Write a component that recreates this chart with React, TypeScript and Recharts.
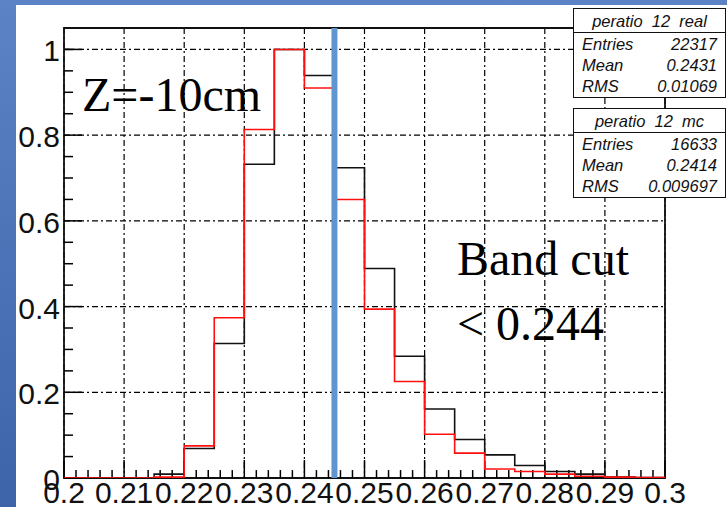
import React from "react";
import {
  ComposedChart,
  Line,
  XAxis,
  YAxis,
  CartesianGrid,
  ReferenceLine,
  ReferenceArea,
} from "recharts";

// Histogram bin low edges (bin width 0.005)
const binEdges = [
  0.2, 0.205, 0.21, 0.215, 0.22, 0.225, 0.23, 0.235, 0.24, 0.245,
  0.25, 0.255, 0.26, 0.265, 0.27, 0.275, 0.28, 0.285, 0.29, 0.295,
];
const upperEdge = 0.3;

// peratio 12 real (black)
const realValues = [
  0, 0, 0, 0.009, 0.069, 0.314, 0.732, 1.0, 0.939, 0.724,
  0.489, 0.284, 0.161, 0.09, 0.054, 0.029, 0.015, 0.009, 0.002, 0.001,
];
// peratio 12 mc (red)
const mcValues = [
  0, 0, 0, 0.002, 0.075, 0.374, 0.813, 1.0, 0.91, 0.65,
  0.394, 0.225, 0.102, 0.058, 0.021, 0.015, 0.009, 0.004, 0.002, 0.001,
];

const xTicks = [0.2, 0.21, 0.22, 0.23, 0.24, 0.25, 0.26, 0.27, 0.28, 0.29, 0.3];
const xTickLabels = ["0.2", "0.21", "0.22", "0.23", "0.24", "0.25", "0.26", "0.27", "0.28", "0.29", "0.3"];
const yTicks = [0, 0.2, 0.4, 0.6, 0.8, 1];
const yTickLabels = ["0", "0.2", "0.4", "0.6", "0.8", "1"];
const xMinorTicks = [
  0.202, 0.204, 0.206, 0.208, 0.212, 0.214, 0.216, 0.218, 0.222, 0.224, 0.226, 0.228,
  0.232, 0.234, 0.236, 0.238, 0.242, 0.244, 0.246, 0.248, 0.252, 0.254, 0.256, 0.258,
  0.262, 0.264, 0.266, 0.268, 0.272, 0.274, 0.276, 0.278, 0.282, 0.284, 0.286, 0.288,
  0.292, 0.294, 0.296, 0.298,
];
const yMinorTicks = [0.05, 0.1, 0.15, 0.25, 0.3, 0.35, 0.45, 0.5, 0.55, 0.65, 0.7, 0.75, 0.85, 0.9, 0.95, 1.0];
const cutValue = 0.245;

const statsReal = { title: "peratio  12  real", entries: "22317", mean: "0.2431", rms: "0.01069" };
const statsMc = { title: "peratio  12  mc", entries: "16633", mean: "0.2414", rms: "0.009697" };

const chartData = [
  ...binEdges.map((x, i) => ({ x, real: realValues[i], mc: mcValues[i] })),
  { x: upperEdge, real: realValues[realValues.length - 1], mc: mcValues[mcValues.length - 1] },
];

const Y_MAX = 1.05;
const AXIS_FONT = "'Liberation Sans', Arial, sans-serif";

const XTick = (props: any) => {
  const { x, y, payload } = props;
  const idx = xTicks.findIndex((t) => Math.abs(t - payload.value) < 1e-9);
  return (
    <text x={x} y={y + 25} textAnchor="middle" fontSize={30} fontFamily={AXIS_FONT} fill="#111">
      {idx >= 0 ? xTickLabels[idx] : ""}
    </text>
  );
};

const YTick = (props: any) => {
  const { x, y, payload } = props;
  const idx = yTicks.findIndex((t) => Math.abs(t - payload.value) < 1e-9);
  return (
    <text x={x - 4} y={y + 12} textAnchor="end" fontSize={30} fontFamily={AXIS_FONT} fill="#111">
      {idx >= 0 ? yTickLabels[idx] : ""}
    </text>
  );
};

const StatBox = ({ top, stats }: { top: number; stats: typeof statsReal }) => {
  const rowStyle: React.CSSProperties = {
    display: "flex",
    justifyContent: "space-between",
    padding: "0 8px 0 8px",
    height: 21,
    lineHeight: "21px",
  };
  return (
    <div
      style={{
        position: "absolute",
        left: 573,
        top,
        width: 151,
        height: 88,
        border: "1.5px solid #111",
        background: "#fff",
        fontFamily: AXIS_FONT,
        fontStyle: "italic",
        fontSize: 16.5,
        color: "#111",
      }}
    >
      <div
        style={{
          height: 23,
          lineHeight: "24px",
          textAlign: "center",
          borderBottom: "1.5px solid #111",
          whiteSpace: "pre",
        }}
      >
        {stats.title}
      </div>
      <div style={{ paddingTop: 1 }}>
        <div style={rowStyle}>
          <span>Entries</span>
          <span>{stats.entries}</span>
        </div>
        <div style={rowStyle}>
          <span>Mean</span>
          <span>{stats.mean}</span>
        </div>
        <div style={rowStyle}>
          <span>RMS</span>
          <span>{stats.rms}</span>
        </div>
      </div>
    </div>
  );
};

export default function App() {
  const xTickLen = 0.0185; // ~8px in data units
  const xMajorLen = 0.042;
  const yMinorLen = 0.0015; // ~9px
  const yMajorLen = 0.003;
  return (
    <div
      style={{
        position: "fixed",
        left: 0,
        top: 0,
        width: 727,
        height: 507,
        background: "linear-gradient(to bottom, #5c83c5, #3d63a9)",
        overflow: "hidden",
      }}
    >
      <div style={{ position: "absolute", left: 16, top: 5, width: 711, height: 502, background: "#fff" }} />
      <div style={{ position: "absolute", left: 0, top: 0 }}>
        <ComposedChart
          width={727}
          height={507}
          data={chartData}
          margin={{ top: 28, right: 62, bottom: 0, left: 4 }}
        >
          <CartesianGrid
            stroke="#000"
            strokeWidth={1.2}
            strokeDasharray="6 3 2 3"
            horizontalValues={yTicks}
            verticalValues={xTicks}
          />
          <XAxis
            type="number"
            dataKey="x"
            domain={[0.2, 0.3]}
            ticks={xTicks}
            interval={0}
            allowDataOverflow
            tick={<XTick />}
            tickLine={false}
            axisLine={false}
            tickSize={0}
            tickMargin={0}
            height={29}
          />
          <YAxis
            type="number"
            domain={[0, Y_MAX]}
            ticks={yTicks}
            interval={0}
            allowDataOverflow
            tick={<YTick />}
            tickLine={false}
            axisLine={false}
            tickSize={0}
            tickMargin={0}
            width={60}
          />
          {xMinorTicks.map((t) => (
            <ReferenceLine
              key={"xm" + t}
              segment={[{ x: t, y: 0 }, { x: t, y: xTickLen }]}
              stroke="#000"
              strokeWidth={1.5}
            />
          ))}
          {xTicks.map((t) => (
            <ReferenceLine
              key={"xM" + t}
              segment={[{ x: t, y: 0 }, { x: t, y: xMajorLen }]}
              stroke="#000"
              strokeWidth={1.5}
            />
          ))}
          {yMinorTicks.map((t) => (
            <ReferenceLine
              key={"ym" + t}
              segment={[{ x: 0.2, y: t }, { x: 0.2 + yMinorLen, y: t }]}
              stroke="#000"
              strokeWidth={1.5}
            />
          ))}
          {yTicks.map((t) => (
            <ReferenceLine
              key={"yM" + t}
              segment={[{ x: 0.2, y: t }, { x: 0.2 + yMajorLen, y: t }]}
              stroke="#000"
              strokeWidth={1.5}
            />
          ))}
          <ReferenceArea
            x1={0.2}
            x2={0.3}
            y1={0}
            y2={Y_MAX}
            fill="none"
            fillOpacity={0}
            stroke="#111"
            strokeWidth={1.8}
          />
          <Line
            type="stepAfter"
            dataKey="real"
            stroke="#111"
            strokeWidth={1.6}
            dot={false}
            isAnimationActive={false}
          />
          <Line
            type="stepAfter"
            dataKey="mc"
            stroke="#ff1010"
            strokeWidth={1.6}
            dot={false}
            isAnimationActive={false}
          />
          <ReferenceLine x={cutValue} stroke="#6195cf" strokeWidth={6} />
        </ComposedChart>
      </div>
      <svg
        width={727}
        height={507}
        style={{ position: "absolute", left: 0, top: 0, pointerEvents: "none" }}
      >
        <text x={82} y={111} fontFamily="'Liberation Serif', 'DejaVu Serif', serif" fontSize={48} fill="#000">
          Z=-10cm
        </text>
        <text x={457} y={275} fontFamily="'Liberation Serif', 'DejaVu Serif', serif" fontSize={48} fill="#000">
          Band cut
        </text>
        <text x={457} y={340} fontFamily="'Liberation Serif', 'DejaVu Serif', serif" fontSize={48} fill="#000">
          {"< 0.244"}
        </text>
      </svg>
      <StatBox top={8} stats={statsReal} />
      <StatBox top={108} stats={statsMc} />
    </div>
  );
}
